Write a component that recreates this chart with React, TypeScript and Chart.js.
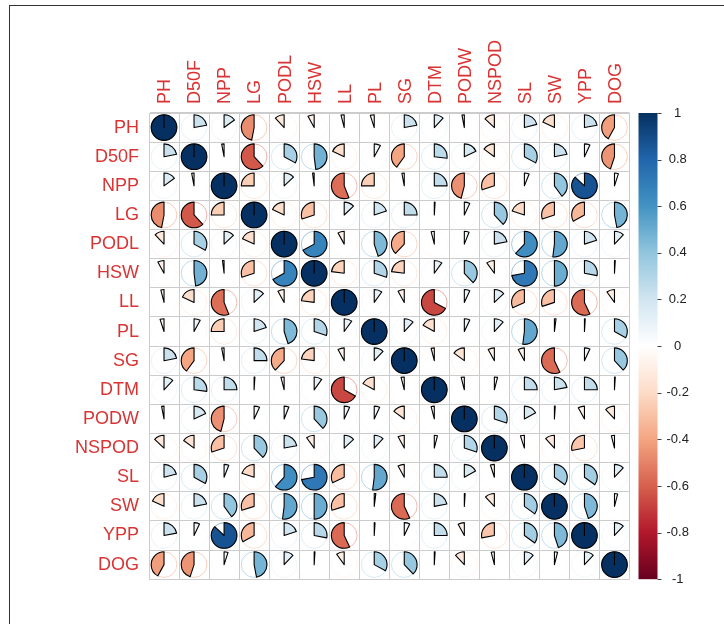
import React, { useEffect, useRef } from "react";
import { Chart, registerables } from "chart.js";

Chart.register(...registerables);

// Variable names (rows / columns of the correlation matrix)
const variables = ["PH", "D50F", "NPP", "LG", "PODL", "HSW", "LL", "PL", "SG", "DTM", "PODW", "NSPOD", "SL", "SW", "YPP", "DOG"];

// Upper triangle of the correlation matrix, one array per row (values right of the diagonal)
const corPH = [0.22, 0.15, -0.47, -0.12, -0.08, -0.04, -0.05, 0.22, 0.12, -0.03, -0.13, 0.21, -0.18, 0.22, -0.42];
const corD50F = [-0.03, -0.62, 0.33, 0.48, -0.18, 0.08, -0.4, 0.27, 0.18, -0.15, 0.33, 0.22, 0.07, -0.45];
const corNPP = [-0.25, 0.13, -0.02, -0.56, -0.25, -0.03, 0.25, -0.46, -0.3, 0.06, 0.4, 0.87, 0.05];
const corLG = [-0.18, -0.3, 0.13, 0.2, 0.25, 0.01, 0.07, 0.38, -0.2, -0.3, -0.33, 0.47];
const corPODL = [0.67, -0.08, 0.45, -0.38, -0.04, 0.06, 0.22, 0.62, 0.52, 0.2, 0.12];
const corHSW = [-0.23, 0.3, -0.23, 0.1, 0.38, -0.1, 0.72, 0.5, 0.28, 0.01];
const corLL = [0.1, -0.08, -0.67, 0.07, 0.13, -0.32, -0.3, -0.57, -0.1];
const corPL = [0.12, -0.17, 0.07, 0.12, 0.52, 0.02, 0.01, 0.33];
const corSG = [-0.04, -0.15, -0.08, -0.08, -0.57, 0.07, 0.38];
const corDTM = [-0.04, 0.04, 0.25, 0.22, 0.25, 0.01];
const corPODW = [0.3, 0.17, 0.01, -0.08, -0.12];
const corNSPOD = [-0.05, -0.12, -0.28, -0.04];
const corSL = [0.35, 0.35, 0.12];
const corSW = [0.45, 0.04];
const corYPP = [0.12];
const corDOG: number[] = [];

const upperRows = [corPH, corD50F, corNPP, corLG, corPODL, corHSW, corLL, corPL, corSG, corDTM, corPODW, corNSPOD, corSL, corSW, corYPP, corDOG];

// Colour legend ticks
const colorbarTicks = [-1, -0.8, -0.6, -0.4, -0.2, 0, 0.2, 0.4, 0.6, 0.8, 1];

// RdBu palette (from -1 to 1)
const palette = ["#67001F", "#B2182B", "#D6604D", "#F4A582", "#FDDBC7", "#FFFFFF", "#D1E5F0", "#92C5DE", "#4393C3", "#2166AC", "#053061"];

const LABEL_RED = "#d93434";
const FONT = "'Liberation Sans', Arial, Helvetica, sans-serif";

function hexToRgb(h: string) {
  const n = parseInt(h.slice(1), 16);
  return [(n >> 16) & 255, (n >> 8) & 255, n & 255];
}

function colorFor(v: number) {
  const t = ((v + 1) / 2) * (palette.length - 1);
  const i = Math.max(0, Math.min(Math.floor(t), palette.length - 2));
  const f = t - i;
  const a = hexToRgb(palette[i]);
  const b = hexToRgb(palette[i + 1]);
  const c = a.map((x, k) => Math.round(x + (b[k] - x) * f));
  return `rgb(${c[0]},${c[1]},${c[2]})`;
}

function buildMatrix() {
  const n = variables.length;
  const m: number[][] = [];
  for (let i = 0; i < n; i++) m.push(new Array(n).fill(0));
  for (let i = 0; i < n; i++) {
    m[i][i] = 1;
    const row = upperRows[i];
    for (let k = 0; k < row.length; k++) {
      const j = i + 1 + k;
      m[i][j] = row[k];
      m[j][i] = row[k];
    }
  }
  return m;
}

const piePlugin = {
  id: "corrPies",
  afterDatasetsDraw(chart: any) {
    const ctx = chart.ctx;
    const xs = chart.scales.x;
    const ys = chart.scales.y;
    const n = variables.length;
    const cw = xs.width / n;
    const ch = ys.height / n;
    const R = Math.min(cw, ch) * 0.44;
    const meta = chart.getDatasetMeta(0);
    const data = chart.data.datasets[0].data;
    meta.data.forEach((pt: any, k: number) => {
      const v = data[k].v as number;
      const x = pt.x;
      const y = pt.y;
      const col = colorFor(v);
      ctx.save();
      ctx.beginPath();
      ctx.arc(x, y, R, 0, Math.PI * 2);
      ctx.globalAlpha = 0.45;
      ctx.strokeStyle = col;
      ctx.lineWidth = 1;
      ctx.stroke();
      ctx.globalAlpha = 1;
      const start = -Math.PI / 2;
      const end = start + v * Math.PI * 2;
      ctx.beginPath();
      ctx.moveTo(x, y);
      ctx.lineTo(x, y - R);
      ctx.arc(x, y, R, start, end, v < 0);
      ctx.closePath();
      ctx.fillStyle = col;
      ctx.fill();
      ctx.strokeStyle = "#000";
      ctx.lineWidth = 1.1;
      ctx.lineJoin = "round";
      ctx.stroke();
      ctx.restore();
    });
  },
};

const colorbarPlugin = {
  id: "colorbar",
  afterDraw(chart: any) {
    const ctx = chart.ctx;
    const s = chart.scales.cb;
    const x0 = s.left + 9;
    const w = 19;
    const yTop = s.getPixelForValue(1);
    const yBot = s.getPixelForValue(-1);
    const g = ctx.createLinearGradient(0, yBot, 0, yTop);
    palette.forEach((c, i) => g.addColorStop(i / (palette.length - 1), c));
    ctx.save();
    ctx.fillStyle = g;
    ctx.fillRect(x0, yTop, w, yBot - yTop);
    ctx.strokeStyle = "#444";
    ctx.lineWidth = 1;
    colorbarTicks.forEach((t) => {
      const y = Math.round(s.getPixelForValue(t)) + 0.5;
      ctx.beginPath();
      ctx.moveTo(x0 + w, y);
      ctx.lineTo(x0 + w + 4, y);
      ctx.stroke();
    });
    ctx.restore();
  },
};

export default function App() {
  const canvasRef = useRef<HTMLCanvasElement | null>(null);

  useEffect(() => {
    const matrix = buildMatrix();
    const points: any[] = [];
    for (let i = 0; i < variables.length; i++) {
      for (let j = 0; j < variables.length; j++) {
        points.push({ x: variables[j], y: variables[i], v: matrix[i][j] });
      }
    }
    const gridColor = "#cccccc";
    const chart = new Chart(canvasRef.current as HTMLCanvasElement, {
      type: "scatter",
      data: {
        datasets: [
          {
            data: points,
            pointRadius: 0,
            pointHoverRadius: 0,
          } as any,
        ],
      },
      options: {
        animation: false,
        responsive: true,
        maintainAspectRatio: false,
        layout: { padding: { left: 0, top: 0, right: 0, bottom: 35 } },
        plugins: { legend: { display: false }, tooltip: { enabled: false } },
        events: [],
        scales: {
          x: {
            type: "category",
            labels: variables,
            position: "top",
            offset: true,
            grid: { offset: true, color: gridColor, drawTicks: false, lineWidth: 1 },
            border: { display: true, color: gridColor },
            ticks: {
              autoSkip: false,
              minRotation: 90,
              maxRotation: 90,
              padding: 9,
              labelOffset: 23,
              color: LABEL_RED,
              font: { family: FONT, size: 18 },
            },
            afterFit: (scale: any) => {
              scale.height = 113;
            },
          },
          y: {
            type: "category",
            labels: variables,
            position: "left",
            offset: true,
            grid: { offset: true, color: gridColor, drawTicks: false, lineWidth: 1 },
            border: { display: true, color: gridColor },
            ticks: {
              autoSkip: false,
              padding: 10,
              color: LABEL_RED,
              font: { family: FONT, size: 18 },
            },
            afterFit: (scale: any) => {
              scale.width = 149;
            },
          },
          cb: {
            type: "linear",
            axis: "y",
            position: "right",
            min: -1,
            max: 1,
            grid: { display: false, drawTicks: false },
            border: { display: false },
            afterBuildTicks: (scale: any) => {
              scale.ticks = colorbarTicks.map((v) => ({ value: v }));
            },
            ticks: {
              padding: 37,
              crossAlign: "center",
              color: "#222",
              font: { family: FONT, size: 13 },
              callback: (v: any) => String(Math.round(Number(v) * 10) / 10),
            },
            afterFit: (scale: any) => {
              scale.width = 94.5;
            },
          } as any,
        },
      },
      plugins: [piePlugin, colorbarPlugin],
    } as any);
    return () => chart.destroy();
  }, []);

  return (
    <div style={{ position: "absolute", left: 0, top: 0, width: 724, height: 624, overflow: "hidden", background: "#fff" }}>
      <div
        style={{
          position: "absolute",
          left: 9,
          top: 5,
          width: 800,
          height: 700,
          borderLeft: "1px solid #333",
          borderTop: "1px solid #333",
        }}
      />
      <div style={{ position: "absolute", left: 0, top: 0, width: 724, height: 624 }}>
        <canvas ref={canvasRef} />
      </div>
    </div>
  );
}
